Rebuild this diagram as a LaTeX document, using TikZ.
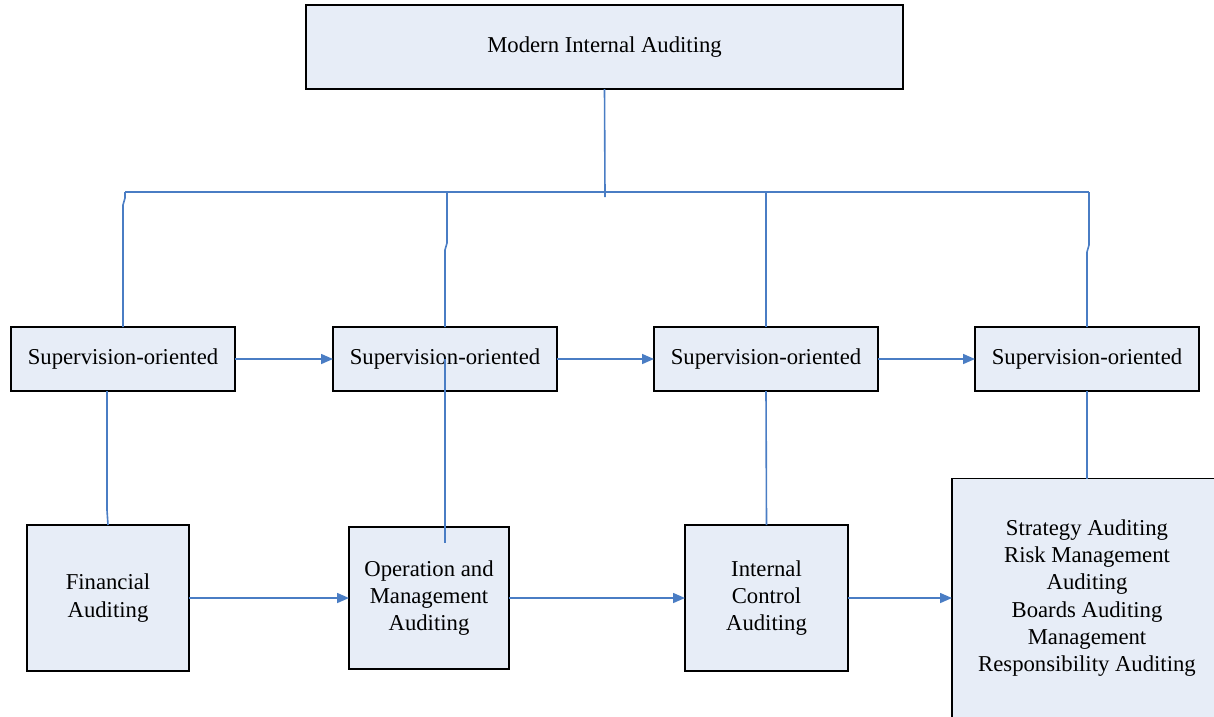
\documentclass[tikz,border=0pt]{standalone}
\usepackage{fontspec}
\setmainfont{Liberation Serif}
\usepackage{tikz}
\usetikzlibrary{arrows.meta}
\definecolor{boxfill}{HTML}{E7EDF7}
\definecolor{linkblue}{HTML}{4A7DC4}

\begin{document}
\begin{tikzpicture}[x=1pt,y=-1pt,
  box/.style={draw=black,line width=1.8pt,fill=boxfill,inner sep=0pt,outer sep=0pt,align=center,font=\fontsize{22.7}{27.2}\selectfont},
  link/.style={linkblue,line width=1.6pt},
  flow/.style={link,-{Triangle[length=12pt,width=10pt]}}]
  \useasboundingbox (0,0) rectangle (1214,716);
  \clip (0,0) rectangle (1214,716);
  % boxes
  \node[box,minimum width=597pt,minimum height=84pt] (mia) at (604.5,47) {Modern Internal Auditing};
  \foreach \i/\x in {1/123,2/445,3/766,4/1087}{
    \node[box,minimum width=224pt,minimum height=64pt] (sup\i) at (\x,359) {Supervision-oriented};
  }
  \node[box,minimum width=162pt,minimum height=146pt] (fin) at (108,598) {Financial\\Auditing};
  \node[box,minimum width=160pt,minimum height=142pt] (opm) at (429,598) {Operation and\\Management\\Auditing};
  \node[box,minimum width=163pt,minimum height=146pt] (ic) at (766.5,598) {Internal\\Control\\Auditing};
  \node[box,minimum width=270pt,minimum height=239pt] (strat) at (1087,598) {Strategy Auditing\\Risk Management\\Auditing\\Boards Auditing\\Management\\Responsibility Auditing};
  % tree from the top box
  \coordinate (hub) at (605,197);
  \coordinate (busL) at (125,192);
  \coordinate (busR) at (1089,192);
  \coordinate (tap2) at (447,192);
  \draw[link] (mia.south) -- (hub);
  \draw[link] (busL) -- (busR);
  \draw[link] (busL) -- ++(0,6) -- ++(-2,7) -- (sup1.north);
  \draw[link] (tap2) -- ++(0,51) -- ++(-2,7) -- (sup2.north);
  \draw[link] (sup3.north |- busL) -- (sup3.north);
  \draw[link] (busR) -- ++(0,53) -- ++(-2,7) -- (sup4.north);
  % down to the auditing types
  \draw[link] ([xshift=-16pt]sup1.south) -- ++(0,119) -- (fin.north);
  \draw[link] (sup2.center) -- (sup2.center |- opm.north) -- ++(0,16);
  \draw[link] (sup3.south) -- (ic.north);
  \draw[link] (sup4.south) -- (strat.north);
  % flow arrows
  \foreach \a/\b in {sup1/sup2,sup2/sup3,sup3/sup4,fin/opm,opm/ic,ic/strat}{
    \draw[flow] (\a.east) -- (\b.west);
  }
\end{tikzpicture}
\end{document}
